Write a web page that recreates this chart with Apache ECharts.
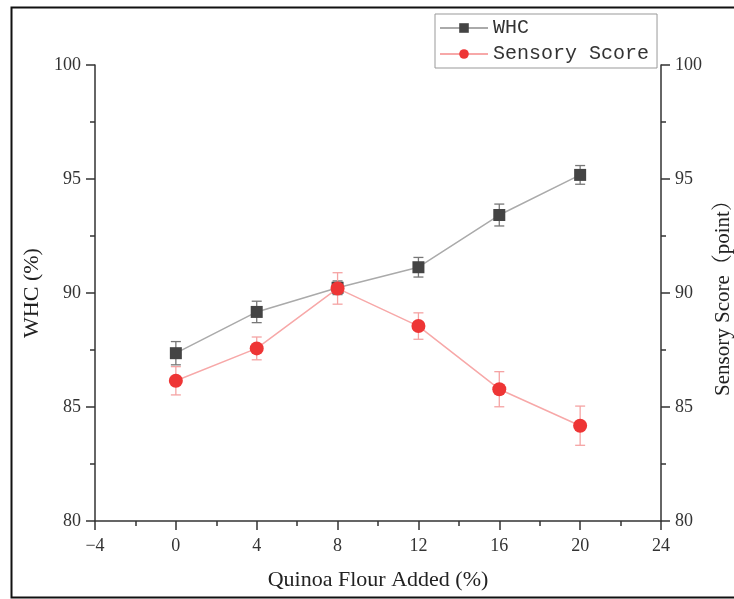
<!DOCTYPE html>
<html><head><meta charset="utf-8">
<script src="https://cdn.jsdelivr.net/npm/echarts@6/dist/echarts.min.js"></script>
<style>html,body{margin:0;padding:0;background:#fff;overflow:hidden}#c{width:734px;height:599px}</style>
</head><body><div id="c"></div>
<script>
const quinoa = [0, 4, 8, 12, 16, 20];
const whc = [87.36, 89.17, 90.23, 91.13, 93.42, 95.18];
const whcErr = [0.51, 0.47, 0.30, 0.43, 0.48, 0.41];
const sensory = [86.15, 87.57, 90.20, 88.55, 85.78, 84.18];
const sensoryErr = [0.62, 0.50, 0.69, 0.58, 0.77, 0.86];
const seriesNames = ['WHC', 'Sensory Score'];

const serif = '"Liberation Serif", "Noto Serif CJK SC", "Noto Sans CJK SC", serif';
const chart = echarts.init(document.getElementById('c'));

function errData(vals, errs) {
  return quinoa.map((x, i) => [x, vals[i] - errs[i], vals[i] + errs[i]]);
}
function errSeries(name, vals, errs, color, yIdx) {
  return {
    type: 'custom', name: name + ' err', yAxisIndex: yIdx, z: 1, silent: true,
    data: errData(vals, errs),
    renderItem: function (params, api) {
      const x = api.value(0);
      const lo = api.coord([x, api.value(1)]);
      const hi = api.coord([x, api.value(2)]);
      const w = 5;
      const st = { stroke: color, lineWidth: 1.3 };
      return { type: 'group', children: [
        { type: 'line', shape: { x1: lo[0], y1: lo[1], x2: hi[0], y2: hi[1] }, style: st },
        { type: 'line', shape: { x1: lo[0] - w, y1: lo[1], x2: lo[0] + w, y2: lo[1] }, style: st },
        { type: 'line', shape: { x1: hi[0] - w, y1: hi[1], x2: hi[0] + w, y2: hi[1] }, style: st }
      ]};
    }
  };
}

function axisCommon() {
  return {
    axisLine: { show: true, onZero: false, lineStyle: { color: '#333', width: 1.5 } },
    axisTick: { show: true, inside: false, length: 9, lineStyle: { color: '#333', width: 1.5 } },
    minorTick: { show: true, splitNumber: 2, length: 5, lineStyle: { color: '#333', width: 1.5 } },
    splitLine: { show: false },
    axisLabel: { color: '#333', fontFamily: serif, fontSize: 18, margin: 14,
      formatter: v => String(v).replace('-', '\u2212') },
    nameTextStyle: { color: '#222', fontFamily: serif, fontSize: 22 }
  };
}

const xAx = Object.assign(axisCommon(), {
  type: 'value', min: -4, max: 24, interval: 4,
  name: 'Quinoa Flour Added (%)', nameLocation: 'middle', nameGap: 48
});
xAx.axisLabel.margin = 16;

const yRight = Object.assign(axisCommon(), {
  type: 'value', min: 80, max: 100, interval: 5, position: 'right',
  name: 'Sensory Score（point）', nameLocation: 'middle', nameGap: 50, nameRotate: 90
});
yRight.nameTextStyle.fontSize = 21;

chart.setOption({
  animation: false,
  backgroundColor: '#fff',
  graphic: [{
    type: 'polyline', silent: true,
    shape: { points: [[750, 7.5], [11.5, 7.5], [11.5, 597.5], [750, 597.5]] },
    style: { stroke: '#111', lineWidth: 2, fill: null }
  }],
  grid: { left: 95, right: 73, top: 65, bottom: 78, outerBoundsMode: 'none', containLabel: false },
  legend: {
    data: seriesNames,
    orient: 'vertical', left: 435, top: 14,
    padding: [4, 8, 4, 4], itemGap: 6,
    itemWidth: 48, itemHeight: 12,
    borderColor: '#999', borderWidth: 1,
    textStyle: { fontFamily: '"Liberation Mono", monospace', fontSize: 20, color: '#333' }
  },
  xAxis: xAx,
  yAxis: [
    Object.assign(axisCommon(), {
      type: 'value', min: 80, max: 100, interval: 5, position: 'left',
      name: 'WHC (%)', nameLocation: 'middle', nameGap: 52, nameRotate: 90
    }),
    yRight
  ],
  series: [
    errSeries('WHC', whc, whcErr, '#777', 0),
    errSeries('Sensory Score', sensory, sensoryErr, '#f5a3a3', 1),
    {
      type: 'line', name: seriesNames[0], yAxisIndex: 0, z: 3,
      data: quinoa.map((x, i) => [x, whc[i]]),
      symbol: 'rect', symbolSize: 12,
      lineStyle: { color: '#aaa', width: 1.5 },
      itemStyle: { color: '#444' }
    },
    {
      type: 'line', name: seriesNames[1], yAxisIndex: 1, z: 4,
      data: quinoa.map((x, i) => [x, sensory[i]]),
      symbol: 'circle', symbolSize: 14,
      lineStyle: { color: '#f7a8a8', width: 1.5 },
      itemStyle: { color: '#ee3535' }
    }
  ]
});
</script></body></html>
